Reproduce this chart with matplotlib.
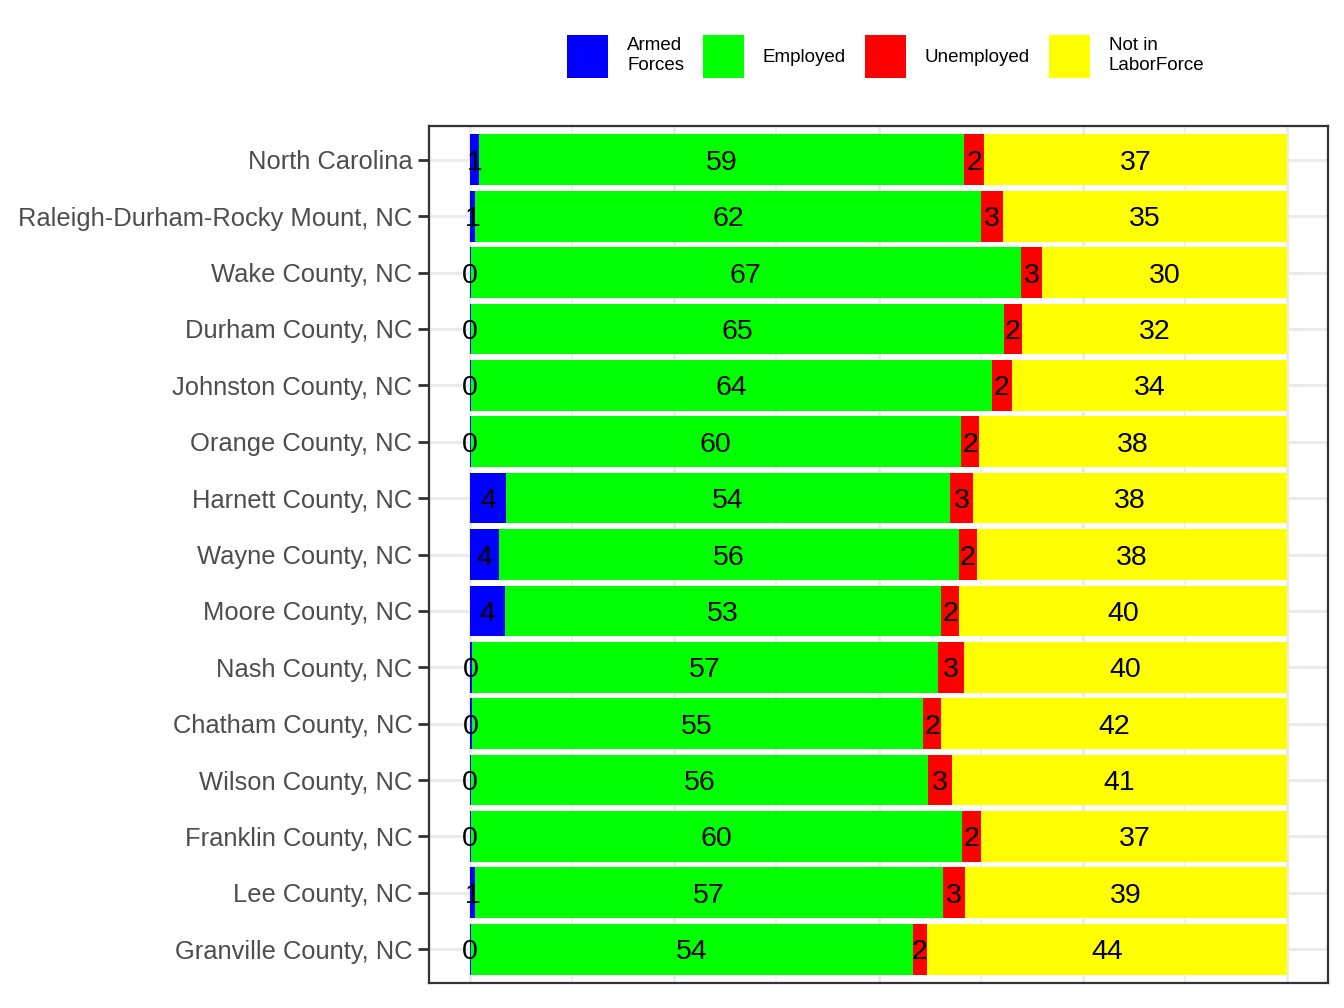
import numpy as np
import matplotlib
matplotlib.use("Agg")
import matplotlib.pyplot as plt
from matplotlib.patches import Patch
from matplotlib.ticker import MultipleLocator

plt.rcParams['font.family'] = ['Liberation Sans', 'DejaVu Sans']

# areas, top to bottom
areas = ["North Carolina", "Raleigh-Durham-Rocky Mount, NC", "Wake County, NC",
         "Durham County, NC", "Johnston County, NC", "Orange County, NC",
         "Harnett County, NC", "Wayne County, NC", "Moore County, NC",
         "Nash County, NC", "Chatham County, NC", "Wilson County, NC",
         "Franklin County, NC", "Lee County, NC", "Granville County, NC"]

# percent of population 16+
armed_forces = [1.1, 0.6, 0.1, 0.1, 0.1, 0.1, 4.4, 3.6, 4.3, 0.2, 0.2, 0.1, 0.1, 0.6, 0.1]
employed     = [59.4, 62.0, 67.3, 65.2, 63.8, 60.0, 54.3, 56.2, 53.4, 57.1, 55.2, 56.0, 60.1, 57.3, 54.1]
unemployed   = [2.4, 2.6, 2.6, 2.3, 2.4, 2.2, 2.9, 2.2, 2.2, 3.1, 2.3, 2.9, 2.4, 2.7, 1.7]
not_in_lf    = [37.1, 34.8, 30.0, 32.4, 33.7, 37.7, 38.4, 38.0, 40.1, 39.6, 42.3, 41.0, 37.4, 39.4, 44.1]

series = ["Armed\nForces", "Employed", "Unemployed", "Not in\nLaborForce"]
colors = ["#0000FF", "#00FF00", "#FF0000", "#FFFF00"]
values = [armed_forces, employed, unemployed, not_in_lf]

fig = plt.figure(figsize=(13.44, 10.08), dpi=100)
ax = fig.add_axes([0.3192, 0.0248, 0.9881 - 0.3192, 0.875 - 0.0248])

n = len(areas)
ypos = np.arange(n, 0, -1)  # first area on top
left = np.zeros(n)
for vals, col in zip(values, colors):
    vals = np.array(vals)
    ax.barh(ypos, vals, left=left, height=0.9, color=col, zorder=2)
    for y, l, v in zip(ypos, left, vals):
        ax.text(l + v / 2, y, f"{round(v)}", ha="center", va="center_baseline",
                fontsize=20.5, color="black", zorder=3)
    left += vals

ax.set_xlim(-5, 105)
ax.set_ylim(0.4, n + 0.6)
ax.set_yticks(ypos)
ax.set_yticklabels(areas, fontsize=18.4, color="#4D4D4D")
ax.xaxis.set_major_locator(MultipleLocator(25))
ax.xaxis.set_minor_locator(MultipleLocator(12.5))
ax.tick_params(axis="x", which="both", bottom=False, labelbottom=False)
ax.tick_params(axis="y", length=8, width=2, color="#333333", pad=4)

ax.grid(True, axis="both", which="major", color="#EBEBEB", linewidth=2.2, zorder=0)
ax.grid(True, axis="x", which="minor", color="#EBEBEB", linewidth=1.1, zorder=0)
ax.set_axisbelow(True)
for sp in ax.spines.values():
    sp.set_color("#333333")
    sp.set_linewidth(1.6)

handles = [Patch(facecolor=c, edgecolor="none") for c in colors]
fig.legend(handles, series, loc="center", bbox_to_anchor=(0.659, 0.944), ncol=4,
           frameon=False, fontsize=13.5, handlelength=2.2, handleheight=3.2,
           handletextpad=1.0, columnspacing=1.0, labelspacing=0.1)

fig.savefig("out.png", dpi=100, facecolor="white")
